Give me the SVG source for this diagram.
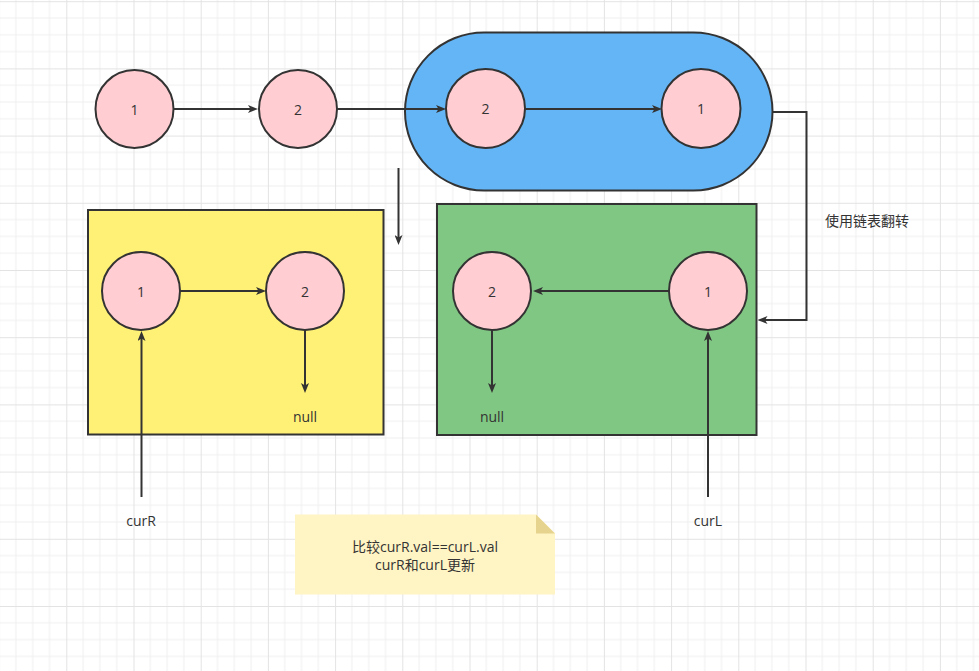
<svg xmlns="http://www.w3.org/2000/svg" width="979" height="671" viewBox="0 0 979 671">
<style>
.c{fill:#ffcdd2;stroke:#333333;stroke-width:2}
.t{font-family:"Open Sans","Noto Sans CJK SC",sans-serif;font-size:14px;fill:#333333;text-anchor:middle;dominant-baseline:central}
.e{fill:none;stroke:#333333;stroke-width:2}
.box{stroke:#333333;stroke-width:2}
</style>
<defs>
<pattern id="grid" x="-0.9" y="1.2" width="67.2" height="67.2" patternUnits="userSpaceOnUse">
<path d="M16.8 0V67.2M33.6 0V67.2M50.4 0V67.2M0 16.8H67.2M0 33.6H67.2M0 50.4H67.2" stroke="#f0f0f0" stroke-width="1" fill="none"/>
<path d="M0.5 0V67.2M0 0.5H67.2" stroke="#e3e3e3" stroke-width="1" fill="none"/>
</pattern>
<marker id="arr" viewBox="0 0 10 8" refX="4" refY="4" markerWidth="10" markerHeight="8" markerUnits="userSpaceOnUse" orient="auto">
<path d="M0,0 L10,4 L0,8 L2.5,4 Z" fill="#333333"/>
</marker>
</defs>
<rect x="0" y="0" width="979" height="671" fill="#ffffff"/>
<rect x="0" y="0" width="979" height="671" fill="url(#grid)"/>

<g id="blue-container"><rect class="box" x="405" y="32.5" width="367.5" height="158" rx="79" ry="79" fill="#64b5f6"/></g>
<g id="yellow-container"><rect class="box" x="88" y="210" width="295.5" height="224.5" fill="#fff176"/></g>
<g id="green-container"><rect class="box" x="437" y="204" width="319.5" height="231" fill="#81c784"/></g>

<g id="top-n1"><circle class="c" cx="134.5" cy="109" r="39"/><text class="t" x="134.5" y="109">1</text></g>
<g id="top-n2"><circle class="c" cx="298" cy="109" r="39"/><text class="t" x="298" y="109">2</text></g>
<g id="blue-n2"><circle class="c" cx="485.5" cy="108.5" r="39.5"/><text class="t" x="485.5" y="108.5">2</text></g>
<g id="blue-n1"><circle class="c" cx="701" cy="108.5" r="39.5"/><text class="t" x="701" y="108.5">1</text></g>

<g id="yellow-n1"><circle class="c" cx="141" cy="291" r="39"/><text class="t" x="141" y="291">1</text></g>
<g id="yellow-n2"><circle class="c" cx="305" cy="291" r="39"/><text class="t" x="305" y="291">2</text></g>
<g id="yellow-null"><text class="t" x="305" y="416">null</text></g>

<g id="green-n2"><circle class="c" cx="492" cy="291" r="39"/><text class="t" x="492" y="291">2</text></g>
<g id="green-n1"><circle class="c" cx="708" cy="291" r="39"/><text class="t" x="708" y="291">1</text></g>
<g id="green-null"><text class="t" x="492" y="416">null</text></g>

<g id="curR"><text class="t" x="141" y="520">curR</text></g>
<g id="curL"><text class="t" x="708" y="520">curL</text></g>
<g id="reverse-label"><text class="t" x="867" y="220">使用链表翻转</text></g>

<g id="note">
<path d="M295,514.5 H536 L555,533.5 V594.5 H295 Z" fill="#fff4c3"/>
<path d="M536,514.5 L555,533.5 H536 Z" fill="#e6d48e"/>
<text class="t" x="425" y="546.5">比较curR.val==curL.val</text>
<text class="t" x="425" y="564">curR和curL更新</text>
</g>

<g id="connectors">
<path class="e" d="M174,109 H252" marker-end="url(#arr)"/>
<path class="e" d="M337,109 H440" marker-end="url(#arr)"/>
<path class="e" d="M525,109 H656" marker-end="url(#arr)"/>
<path class="e" d="M772.5,112 H806.5 V320 H763.5" marker-end="url(#arr)"/>
<path class="e" d="M398.5,168 V239" marker-end="url(#arr)"/>
<path class="e" d="M180,291 H260" marker-end="url(#arr)"/>
<path class="e" d="M305,330 V387" marker-end="url(#arr)"/>
<path class="e" d="M141.5,497 V337" marker-end="url(#arr)"/>
<path class="e" d="M669,291 H539" marker-end="url(#arr)"/>
<path class="e" d="M492,330 V387" marker-end="url(#arr)"/>
<path class="e" d="M708,497 V337" marker-end="url(#arr)"/>
</g>
</svg>
